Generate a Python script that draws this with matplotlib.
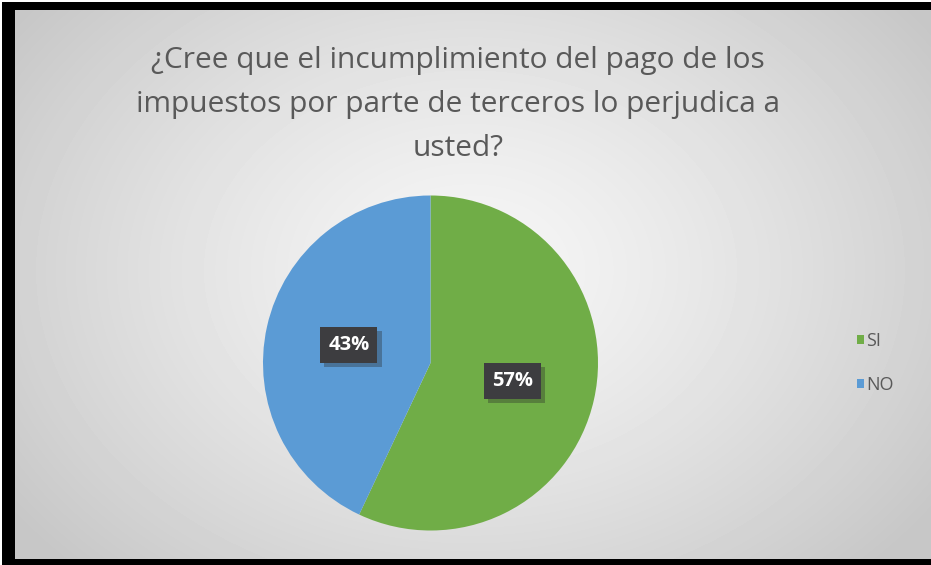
import numpy as np
import matplotlib
matplotlib.use("Agg")
import matplotlib.pyplot as plt
import matplotlib.patheffects as pe
from matplotlib.patches import Rectangle

W, H = 931, 565

TITLE_LINES = ["¿Cree que el incumplimiento del pago de los",
               "impuestos por parte de terceros lo perjudica a",
               "usted?"]
CATEGORIES = ["SI", "NO"]
VALUES = [57, 43]
COLORS = ["#70AD47", "#5B9BD5"]

TEXT_GRAY = "#595959"
FONT = ["Open Sans", "DejaVu Sans"]


def px(x, y, w, h):
    # pixel box (top-left origin) -> figure fraction
    return [x / W, (H - y - h) / H, w / W, h / H]


fig = plt.figure(figsize=(W / 100, H / 100), dpi=100, facecolor="white")

# black frame of the screenshot (left, top, bottom; open on the right)
for box in [(2, 2, 13, H - 2), (2, 2, W - 2, 8), (2, 559, W - 2, 6)]:
    fig.patches.append(Rectangle(px(*box)[:2], *px(*box)[2:], transform=fig.transFigure,
                                 facecolor="black", edgecolor="none", zorder=-5))

# radial grey gradient of the chart area, placed pixel for pixel
gw, gh = W - 15, 549
yy, xx = np.mgrid[0:gh, 0:gw]
cx, cy = 455, 260
r = np.sqrt(((xx - cx) / 560.0) ** 2 + ((yy - cy) / 420.0) ** 2)
r = np.clip(r, 0, 1)
shade = 0.965 - 0.185 * r ** 1.3
fig.figimage(shade, xo=15, yo=H - 559, origin="upper", cmap="gray",
             vmin=0, vmax=1, zorder=-4)

for i, line in enumerate(TITLE_LINES):
    fig.text(458 / W, 1 - (68 + 44 * i) / H, line, ha="center", va="baseline",
             fontsize=21.5, color=TEXT_GRAY, family=FONT)

R = 167.5
ax = fig.add_axes(px(430.5 - R, 363 - R, 2 * R, 2 * R))
wedges, _, autotexts = ax.pie(
    VALUES,
    colors=COLORS,
    startangle=90,
    counterclock=False,
    autopct="%1.0f%%",
    pctdistance=0.5,
    labeldistance=None,
    wedgeprops=dict(linewidth=0),
    textprops=dict(color="white", fontsize=14.5, fontweight="bold", family=FONT),
)
ax.set_xlim(-1, 1)
ax.set_ylim(-1, 1)

for t in autotexts:
    t.set_bbox(dict(boxstyle="square,pad=0.4", facecolor="#3d3d40", edgecolor="none"))
    t.get_bbox_patch().set_path_effects(
        [pe.SimplePatchShadow(offset=(3, -3), shadow_rgbFace="#2a2a2a", alpha=0.35),
         pe.Normal()])

leg = fig.legend(wedges, CATEGORIES, loc="center left",
                 bbox_to_anchor=(857 / W, 1 - 363 / H), frameon=False,
                 borderaxespad=0, borderpad=0,
                 handlelength=0.4, handleheight=0.4, handletextpad=0.12,
                 labelspacing=1.4, prop=dict(family=FONT, size=13))
for t in leg.get_texts():
    t.set_color(TEXT_GRAY)
for h in leg.legend_handles:
    h.set_edgecolor("none")

fig.savefig("out.png", dpi=100, facecolor="white")
